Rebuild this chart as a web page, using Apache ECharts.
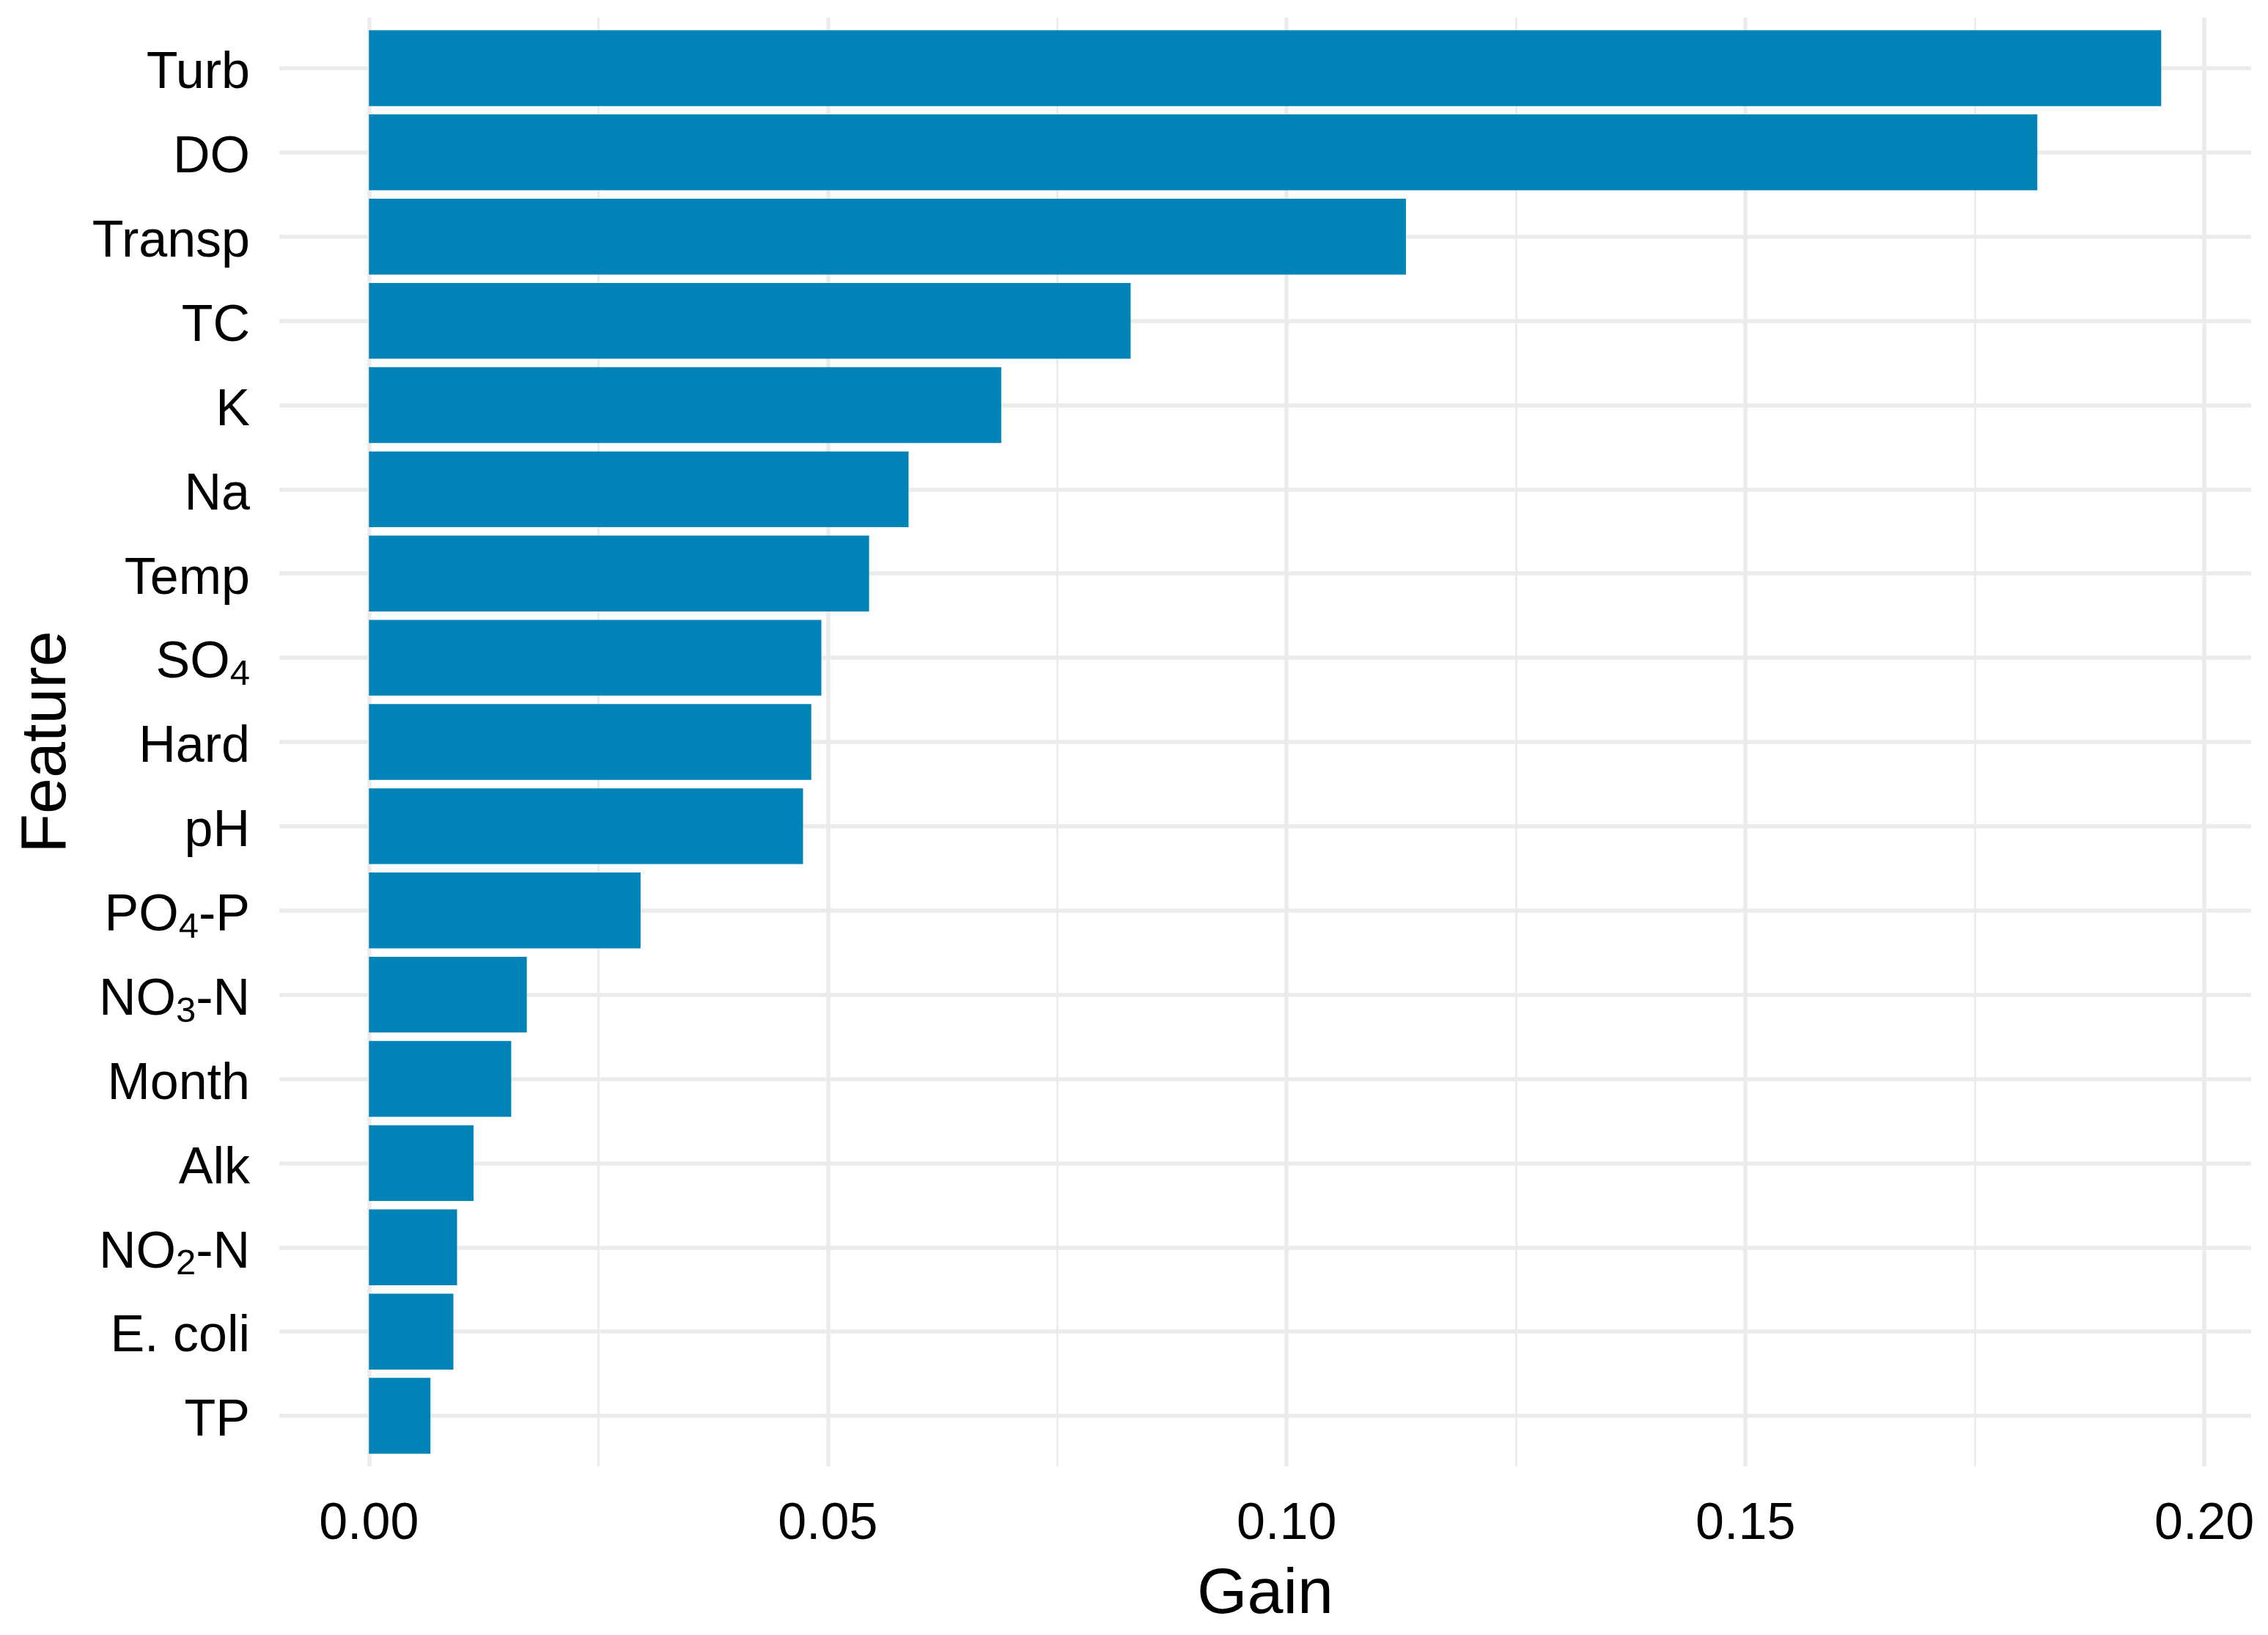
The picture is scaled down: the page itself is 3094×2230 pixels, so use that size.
<!DOCTYPE html>
<html>
<head>
<meta charset="utf-8">
<script src="https://cdn.jsdelivr.net/npm/echarts@6/dist/echarts.min.js"></script>
<style>
html,body{margin:0;padding:0;background:#fff;}
#chart{width:3094px;height:2230px;}
</style>
</head>
<body>
<div id="chart"></div>
<script>
// feature importance (gain), top to bottom
const features = ['Turb','DO','Transp','TC','K','Na','Temp','SO4','Hard','pH',
  'PO4-P','NO3-N','Month','Alk','NO2-N','E. coli','TP'];
const gain = [0.1953,0.1818,0.1130,0.0830,0.0689,0.0588,0.0545,0.0493,0.0482,0.0473,
  0.0296,0.0172,0.0155,0.0114,0.0096,0.0092,0.0067];
const majorTicks = [0, 0.05, 0.10, 0.15, 0.20];
const minorTicks = [0.025, 0.075, 0.125, 0.175];

// panel geometry (ggplot-like expansion)
const panel = {left:381, right:23, top:24, bottom:230};
const xMin = -0.00977, xMax = 0.2051;
const yMin = 0.4, yMax = features.length + 0.6;
const positions = features.map((_, i) => i + 1);
const unit = (2230 - panel.top - panel.bottom) / (yMax - yMin);

const ink = '#000';
const grid = '#EBEBEB';
const font = 'Liberation Sans';

// digits in feature names are chemical subscripts
function richLabel(name) {
  const parts = name.split(/(\d+)/).filter(s => s.length);
  return parts.map(p => /^\d+$/.test(p) ? '{s|' + p + '}' : '{n|' + p + '}').join('');
}

const chart = echarts.init(document.getElementById('chart'), null, {renderer:'canvas'});
chart.setOption({
  animation:false,
  backgroundColor:'#fff',
  textStyle:{fontFamily:font},
  grid:[
    Object.assign({outerBoundsMode:'none'}, panel),
    {left:panel.left, right:panel.right, outerBoundsMode:'none',
     top:panel.top + (1 - 0.5 - yMin) * unit,
     bottom:panel.bottom + (yMax - features.length - 0.5) * unit}
  ],
  xAxis:[
    {gridIndex:0, type:'value', min:xMin, max:xMax,
     axisLine:{show:false},
     axisTick:{show:false, customValues:majorTicks},
     axisLabel:{customValues:majorTicks, formatter:v => v.toFixed(2),
       fontSize:70, color:ink, margin:45, fontFamily:font},
     splitLine:{show:true, lineStyle:{color:grid, width:5.5}},
     name:'Gain', nameLocation:'middle', nameGap:132,
     nameTextStyle:{fontSize:88, color:ink, fontFamily:font}},
    {gridIndex:0, type:'value', min:xMin, max:xMax,
     axisLine:{show:false}, axisLabel:{show:false},
     axisTick:{show:false, customValues:minorTicks},
     splitLine:{show:true, lineStyle:{color:grid, width:2.75}}},
    {gridIndex:1, type:'value', min:xMin, max:xMax, show:false}
  ],
  yAxis:[
    {gridIndex:0, type:'value', min:yMin, max:yMax, inverse:true,
     axisLine:{show:false},
     axisTick:{show:false, customValues:positions},
     axisLabel:{customValues:positions, margin:40, color:ink, padding:[16,0,0,0],
       formatter:v => richLabel(features[Math.round(v) - 1]),
       rich:{
         n:{fontSize:70, lineHeight:80, color:ink, fontFamily:font},
         s:{fontSize:49, lineHeight:36, color:ink, fontFamily:font, verticalAlign:'bottom'}
       }},
     splitLine:{show:true, lineStyle:{color:grid, width:5.5}},
     name:'Feature', nameLocation:'middle', nameGap:272, nameRotate:90,
     nameTextStyle:{fontSize:88, color:ink, fontFamily:font}},
    {gridIndex:1, type:'category', data:features, inverse:true, show:false}
  ],
  series:[{
    type:'bar', xAxisIndex:2, yAxisIndex:1,
    data:gain, barCategoryGap:'10%',
    itemStyle:{color:'#0083B7'}, silent:true
  }]
});
</script>
</body>
</html>
